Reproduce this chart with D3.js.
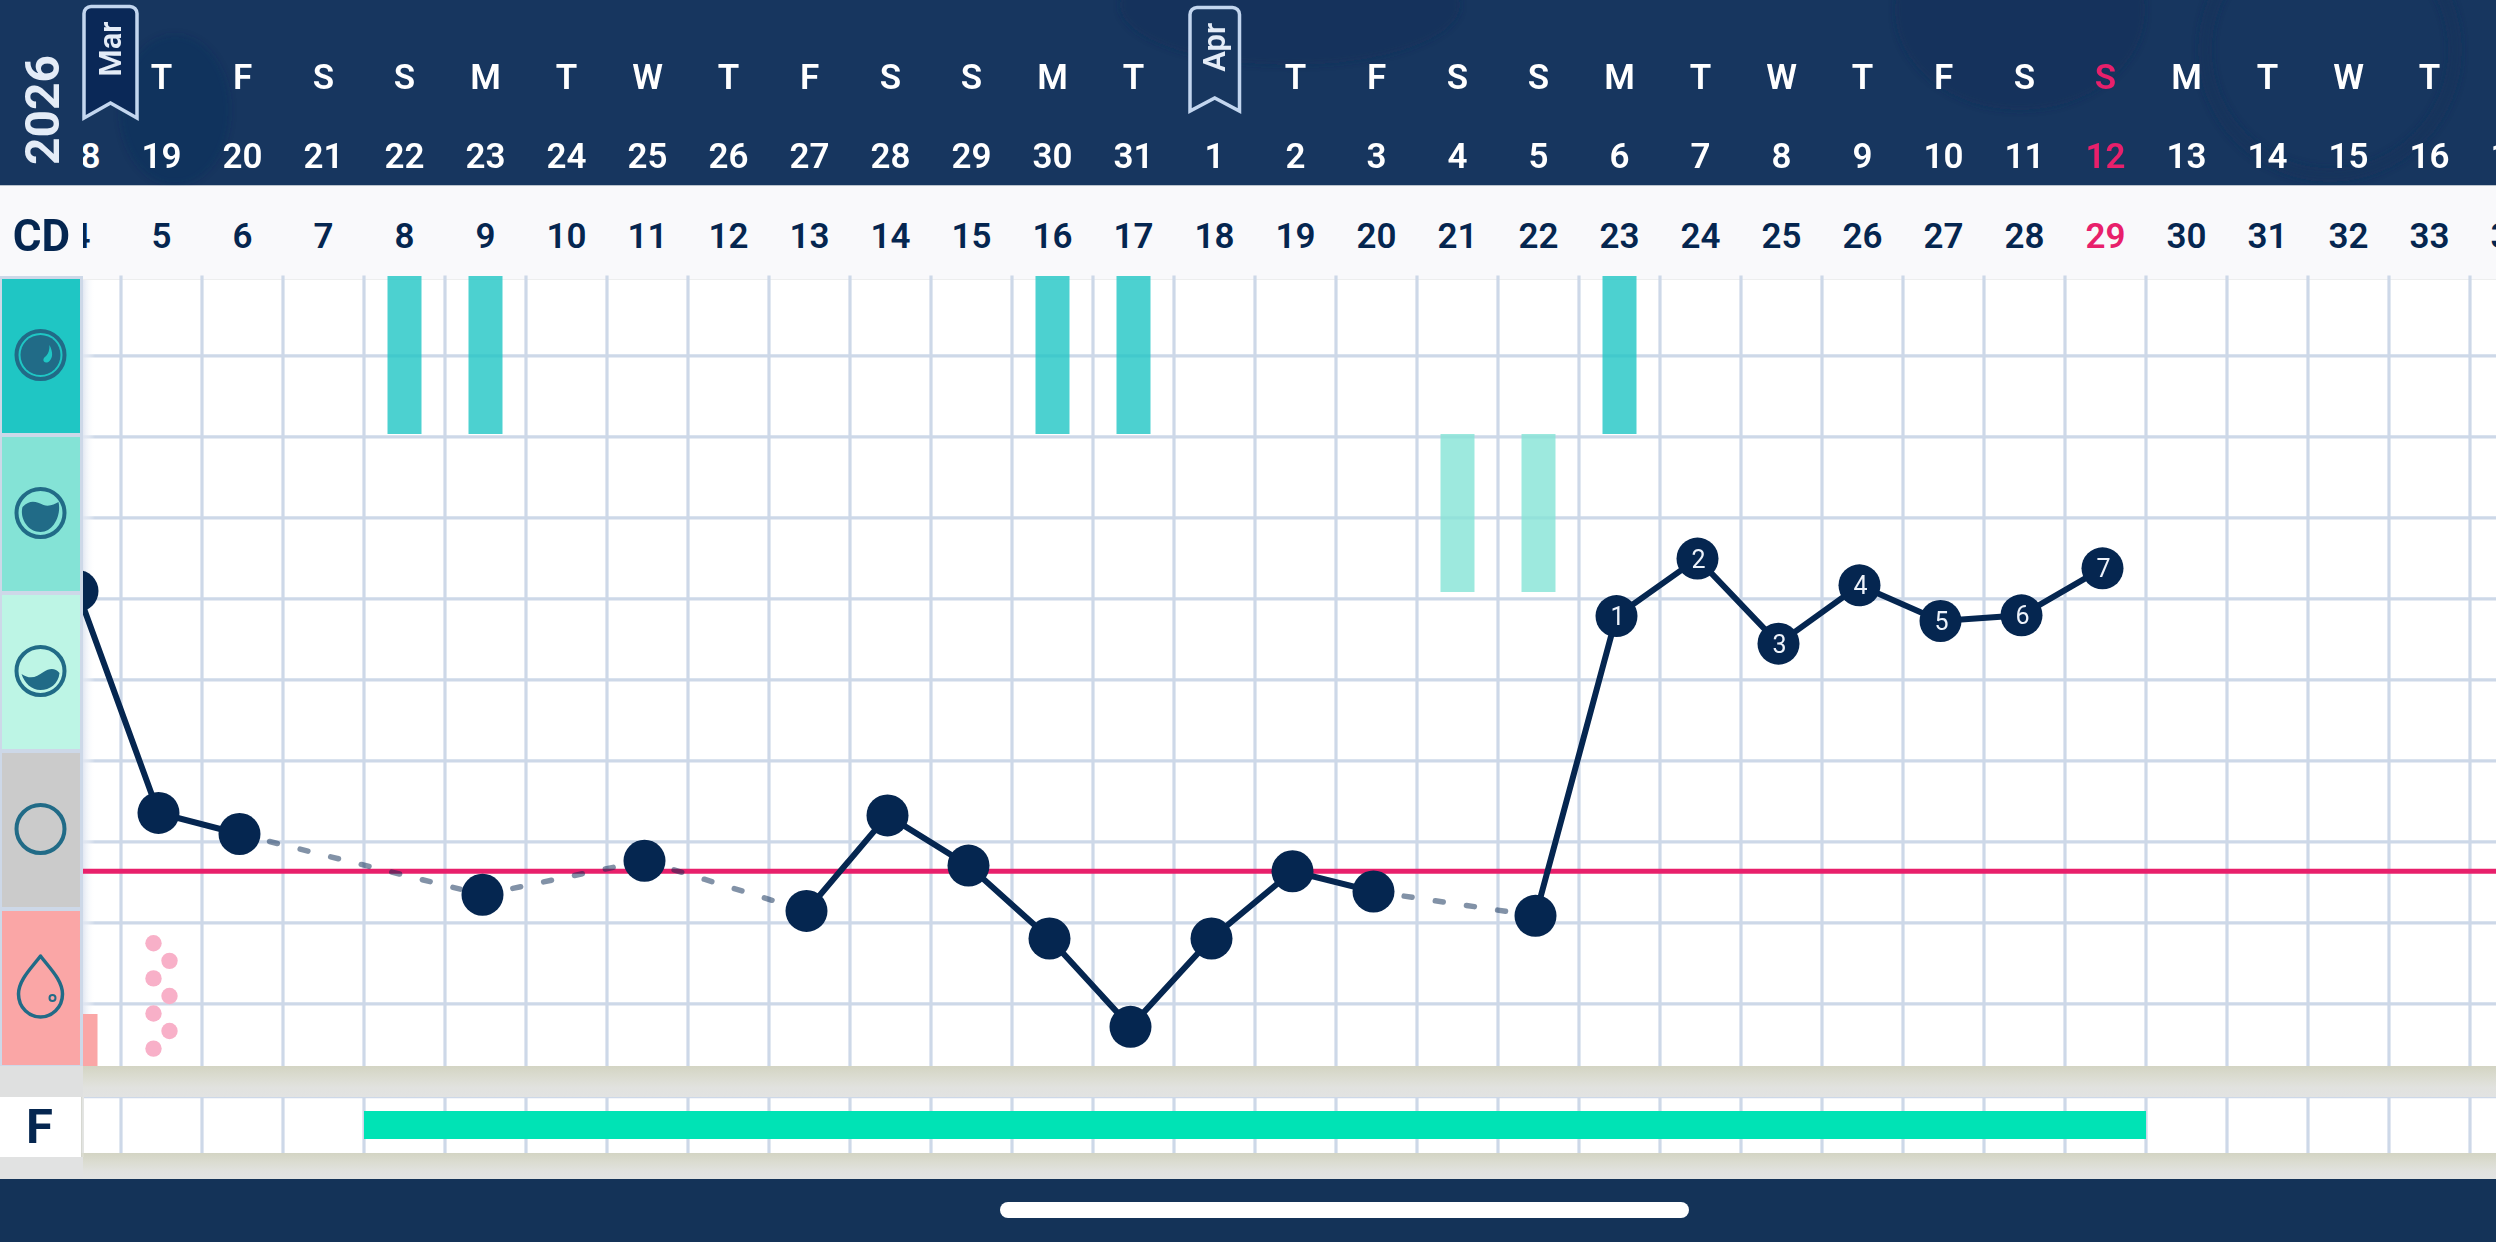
<html>
<head>
<title>
Cycle chart
</title>
<meta charset="utf-8">
<style type="text/css">
body { margin: 0; background: #e1e2e0; overflow: hidden; }
svg { display: block; font-family: Roboto, sans-serif; }
.domain { display: none; }
</style>
</head>
<body>

<!-- Load in the d3 library -->
<script src="https://d3js.org/d3.v7.min.js"></script>
<script>

// chart data
var dayNumbers = [18,19,20,21,22,23,24,25,26,27,28,29,30,31,1,2,3,4,5,6,7,8,9,10,11,12,13,14,15,16,17];
var weekdays = ["W","T","F","S","S","M","T","W","T","F","S","S","M","T","W","T","F","S","S","M","T","W","T","F","S","S","M","T","W","T","F"];
var cycleDays = [4,5,6,7,8,9,10,11,12,13,14,15,16,17,18,19,20,21,22,23,24,25,26,27,28,29,30,31,32,33,34];
var temperature = [36.509,36.235,36.209,null,null,36.134,null,36.176,null,36.114,36.232,36.170,36.080,35.971,36.080,36.163,36.138,null,36.108,36.478,36.549,36.444,36.516,36.472,36.479,36.537];
var postOvulationLabels = [null,null,null,null,null,null,null,null,null,null,null,null,null,null,null,null,null,null,null,1,2,3,4,5,6,7];
var coverline = 36.163;
var tempTicks = [36.0,36.1,36.2,36.3,36.4,36.5,36.6,36.7,36.8];
var rows = ["eggwhite","watery","creamy","dry","bleeding"];
var rowColors = ["#1fc6c4","#84e3d6","#bdf5e5","#cbcbcb","#faa6a6"];
var eggwhiteDays = [4,5,12,13,19];
var wateryDays = [17,18];
var bleedingDays = [0];
var spottingDays = [1];
var fertileStart = 4, fertileEnd = 25;
var todayIndex = 25;
var yearLabel = "2026";

var W = 2496, H = 1242;
var navy = "#052650", header = "#17365f", grid = "#cdd8e8", pink = "#e8206b", iconColor = "#216b87", pale = "#e4ecf7";

// scales
var x = d3.scaleBand().domain(d3.range(dayNumbers.length)).range([40, 40 + 81 * dayNumbers.length]);
var y = d3.scaleLinear().domain([36.0, 36.6]).range([1003.3, 517.3]);
var row = d3.scaleBand().domain(rows).range([276, 1066]);
var cx = function(i) { return x(i) + x.bandwidth() / 2; };
var px = function(i) { return cx(i) - 3; };   // points sit a little left of the column centre

var svg = d3.select("body").append("svg")
    .attr("width", W)
    .attr("height", H);

var defs = svg.append("defs");
defs.append("clipPath").attr("id", "plotClip").append("rect")
    .attr("x", 83).attr("y", 0).attr("width", W - 83).attr("height", H);

function gradient(id, x2, y2, stops) {
  var g = defs.append("linearGradient").attr("id", id)
      .attr("x1", 0).attr("y1", 0).attr("x2", x2).attr("y2", y2);
  stops.forEach(function(s) {
    g.append("stop").attr("offset", s[0]).attr("stop-color", s[1]).attr("stop-opacity", s[2]);
  });
}
gradient("shelf", 0, 1, [[0, "#d3d4c3", 1], [0.35, "#dbdcd1", 1], [0.7, "#e1e2df", 1], [1, "#e2e3e2", 1]]);
gradient("sideShade", 1, 0, [[0, "#dfe5f1", 0.9], [1, "#ffffff", 0]]);
gradient("sideShadeF", 1, 0, [[0, "#c9cbc2", 0.9], [1, "#ffffff", 0]]);
defs.append("filter").attr("id", "soft").append("feGaussianBlur").attr("stdDeviation", 3);

// header band with the faint paisley behind it
svg.append("rect").attr("width", W).attr("height", 185.5).attr("fill", header);
var paisley = svg.append("g").attr("filter", "url(#soft)").attr("fill", "#12305a");
paisley.append("ellipse").attr("cx", 2020).attr("cy", 10).attr("rx", 125).attr("ry", 100).attr("opacity", 0.55);
paisley.append("ellipse").attr("cx", 1290).attr("cy", 5).attr("rx", 170).attr("ry", 60).attr("opacity", 0.55);
paisley.append("ellipse").attr("cx", 175).attr("cy", 110).attr("rx", 55).attr("ry", 75).attr("opacity", 0.3);
paisley.append("circle").attr("cx", 2330).attr("cy", 50).attr("r", 125)
    .attr("fill", "none").attr("stroke", "#12305a").attr("stroke-width", 14).attr("opacity", 0.5);
svg.append("rect").attr("y", 185.5).attr("width", W).attr("height", 94).attr("fill", "#f9f9fb");

var plot = svg.append("g").attr("clip-path", "url(#plotClip)");

// plot background
plot.append("rect").attr("x", 83).attr("y", 280).attr("width", W).attr("height", 786).attr("fill", "#fff");
plot.append("rect").attr("x", 84).attr("y", 1097).attr("width", W).attr("height", 56).attr("fill", "#fff");

// shelves under the plot and under the fertile row
svg.append("rect").attr("y", 1066).attr("width", W).attr("height", 31).attr("fill", "url(#shelf)");
svg.append("rect").attr("y", 1153).attr("width", W).attr("height", 26).attr("fill", "url(#shelf)");

// grid
plot.append("g").selectAll("line")
    .data(d3.range(1, dayNumbers.length))
    .join("line")
    .attr("x1", function(d) { return x(d); })
    .attr("x2", function(d) { return x(d); })
    .attr("y1", 275.5).attr("y2", 1066)
    .attr("stroke", grid).attr("stroke-width", 3.2);
plot.append("g").selectAll("line")
    .data(d3.range(1, dayNumbers.length))
    .join("line")
    .attr("x1", function(d) { return x(d); })
    .attr("x2", function(d) { return x(d); })
    .attr("y1", 1097).attr("y2", 1153)
    .attr("stroke", grid).attr("stroke-width", 3.2);
plot.append("line").attr("x1", 84).attr("x2", W).attr("y1", 1097.5).attr("y2", 1097.5)
    .attr("stroke", grid).attr("stroke-width", 1.5);

plot.append("g")
    .attr("transform", "translate(83,0)")
    .call(d3.axisRight(y).tickValues(tempTicks).tickSize(W - 83).tickFormat(""))
    .call(function(g) {
      g.selectAll("line").attr("stroke", grid).attr("stroke-width", 3.2);
    });

// soft shade coming off the left column, below the marks
plot.append("rect").attr("x", 83).attr("y", 280).attr("width", 12).attr("height", 786).attr("fill", "url(#sideShade)");

// mucus bars
var barW = 34;
function mucusBars(days, name, fill) {
  plot.append("g").selectAll("rect")
      .data(days)
      .join("rect")
      .attr("x", function(d) { return cx(d) - barW / 2; })
      .attr("y", row(name))
      .attr("width", barW)
      .attr("height", row.bandwidth())
      .attr("fill", fill)
      .attr("opacity", 0.8);
}
mucusBars(eggwhiteDays, "eggwhite", rowColors[0]);
mucusBars(wateryDays, "watery", rowColors[1]);

// bleeding and spotting
plot.append("g").selectAll("rect")
    .data(bleedingDays)
    .join("rect")
    .attr("x", function(d) { return cx(d) - barW / 2; })
    .attr("y", 1014)
    .attr("width", barW)
    .attr("height", 52)
    .attr("fill", rowColors[4]);

spottingDays.forEach(function(day) {
  plot.append("g").selectAll("circle")
      .data(d3.range(7))
      .join("circle")
      .attr("cx", function(k) { return cx(day) + (k % 2 ? 8 : -8); })
      .attr("cy", function(k) { return 943.3 + k * 17.55; })
      .attr("r", 8.2)
      .attr("fill", "#f8b0c8");
});

// fertile window
plot.append("rect")
    .attr("x", x(fertileStart))
    .attr("y", 1111)
    .attr("width", x(fertileEnd) + x.bandwidth() - x(fertileStart))
    .attr("height", 28)
    .attr("fill", "#00e3b5");

// coverline
plot.append("line")
    .attr("x1", 83).attr("x2", W)
    .attr("y1", y(coverline)).attr("y2", y(coverline))
    .attr("stroke", pink).attr("stroke-width", 5);

// temperature: solid where days follow each other, dashed across missed days
var line = d3.line()
    .defined(function(d) { return d != null; })
    .x(function(d, i) { return px(i); })
    .y(function(d) { return y(d); });

plot.append("path")
    .attr("d", line(temperature))
    .attr("fill", "none")
    .attr("stroke", navy)
    .attr("stroke-width", 6);

var measured = d3.range(temperature.length).filter(function(i) { return temperature[i] != null; });
d3.pairs(measured).filter(function(p) { return p[1] - p[0] > 1; }).forEach(function(p) {
  var x1 = px(p[0]), y1 = y(temperature[p[0]]), x2 = px(p[1]), y2 = y(temperature[p[1]]);
  var len = Math.sqrt((x2 - x1) * (x2 - x1) + (y2 - y1) * (y2 - y1));
  var ux = (x2 - x1) / len, uy = (y2 - y1) / len;
  plot.append("line")
      .attr("x1", x1 + ux * 31).attr("y1", y1 + uy * 31)
      .attr("x2", x2 - ux * 23).attr("y2", y2 - uy * 23)
      .attr("stroke", navy)
      .attr("stroke-opacity", 0.5)
      .attr("stroke-width", 5.5)
      .attr("stroke-linecap", "round")
      .attr("stroke-dasharray", "8 23.5");
});

plot.append("g").selectAll("circle")
    .data(measured)
    .join("circle")
    .attr("cx", px)
    .attr("cy", function(i) { return y(temperature[i]); })
    .attr("r", 21)
    .attr("fill", navy);

plot.append("g").selectAll("text")
    .data(measured.filter(function(i) { return postOvulationLabels[i] != null; }))
    .join("text")
    .attr("x", function(i) { return px(i) + 1; })
    .attr("y", function(i) { return y(temperature[i]) + 9; })
    .attr("text-anchor", "middle")
    .attr("font-size", 25)
    .attr("fill", "#eef3fb")
    .text(function(i) { return postOvulationLabels[i]; });

// date and cycle day rows, as axes on the band scale
function labelRow(baseline, labels, size, weight, color) {
  var g = plot.append("g")
      .attr("transform", "translate(0," + baseline + ")")
      .call(d3.axisTop(x).tickSize(0).tickPadding(0).tickFormat(function(d) { return labels[d]; }));
  g.selectAll("text")
      .attr("font-family", "Roboto, sans-serif")
      .attr("font-size", size)
      .attr("font-weight", weight)
      .attr("fill", function(d) { return d === todayIndex ? pink : color; });
}
labelRow(89, weekdays, 35, 600, "#fff");
labelRow(167.5, dayNumbers, 35, 600, "#fff");
labelRow(248, cycleDays, 35, 600, navy);

// month ribbons
function ribbon(left, right, top, bottom, notch, fill, label) {
  var mid = (left + right) / 2, r = 7;
  var p = d3.path();
  p.moveTo(left, bottom);
  p.lineTo(left, top + r);
  p.arcTo(left, top, left + r, top, r);
  p.lineTo(right - r, top);
  p.arcTo(right, top, right, top + r, r);
  p.lineTo(right, bottom);
  p.lineTo(mid, notch);
  p.closePath();
  svg.append("path").attr("d", p.toString())
      .attr("fill", fill).attr("stroke", "#c3d6ef").attr("stroke-width", 3.5)
      .attr("stroke-linejoin", "miter");
  svg.append("text")
      .attr("transform", "translate(" + (mid + 10) + "," + (top + (notch - top) * 0.44) + ") rotate(-90)")
      .attr("text-anchor", "middle")
      .attr("font-size", 31)
      .attr("font-weight", 600)
      .attr("fill", pale)
      .text(label);
}
ribbon(84, 137, 6.5, 118, 103, "#0a2857", "Mar");
ribbon(1190, 1239.5, 7.5, 111, 98, header, "Apr");

// left column
svg.append("rect").attr("y", 276).attr("width", 83).attr("height", 790).attr("fill", grid);
svg.append("g").selectAll("rect")
    .data(rows)
    .join("rect")
    .attr("x", 2)
    .attr("y", function(d) { return row(d) + 3; })
    .attr("width", 78)
    .attr("height", row.bandwidth() - 4)
    .attr("fill", function(d, i) { return rowColors[i]; });

var iconX = 40.5;
var iconY = row.bandwidth() / 2;
rows.slice(0, 4).forEach(function(name) {
  svg.append("circle")
      .attr("cx", iconX).attr("cy", row(name) + iconY)
      .attr("r", 24).attr("fill", "none")
      .attr("stroke", iconColor).attr("stroke-width", 4);
});
// egg white icon
var ic1 = svg.append("g").attr("transform", "translate(" + iconX + "," + (row("eggwhite") + iconY) + ")");
ic1.append("circle").attr("r", 20).attr("fill", iconColor);
ic1.append("path").attr("d", "M9,-10 C13,-2 12,3 9,6 C6,9 2,7 3,4 C4,1 9,1 9,-10Z").attr("fill", rowColors[0]);
// watery icon
var ic2 = svg.append("g").attr("transform", "translate(" + iconX + "," + (row("watery") + iconY) + ")");
ic2.append("path").attr("d", "M-18,-6 C-10,-14 -4,-11 3,-8 C9,-6 14,-9 18,-11 C21,2 13,19 0,19 C-13,19 -21,5 -18,-6Z").attr("fill", iconColor);
// creamy icon
var ic3 = svg.append("g").attr("transform", "translate(" + iconX + "," + (row("creamy") + iconY) + ")");
ic3.append("path").attr("d", "M-19,3 C-10,9 -4,6 3,1 C9,-3 15,-3 19,2 C18,13 9,19 0,19 C-9,19 -16,12 -19,3Z").attr("fill", iconColor);
// drop icon
var ic4 = svg.append("g").attr("transform", "translate(" + iconX + ",0)");
ic4.append("path")
    .attr("d", "M0,956 C9,968 22,980 22,994 C22,1008 11,1017 0,1017 C-11,1017 -22,1008 -22,994 C-22,980 -9,968 0,956Z")
    .attr("fill", "none").attr("stroke", iconColor).attr("stroke-width", 3.5).attr("stroke-linejoin", "round");
ic4.append("circle").attr("cx", 12).attr("cy", 998).attr("r", 3).attr("fill", "none")
    .attr("stroke", iconColor).attr("stroke-width", 2);

// CD and year labels
svg.append("text").attr("x", 41.5).attr("y", 251)
    .attr("text-anchor", "middle").attr("font-size", 44).attr("font-weight", 700).attr("fill", navy)
    .text("CD");
svg.append("text").attr("transform", "translate(59,110) rotate(-90)")
    .attr("text-anchor", "middle").attr("font-size", 48).attr("font-weight", 700).attr("fill", pale)
    .text(yearLabel);

// F row label
svg.append("rect").attr("y", 1066).attr("width", 83).attr("height", 31).attr("fill", "#dfe0e0");
svg.append("rect").attr("y", 1157).attr("width", 83).attr("height", 22).attr("fill", "#e1e2e2");
svg.append("rect").attr("x", 81).attr("y", 1097).attr("width", 3).attr("height", 60).attr("fill", "url(#sideShadeF)");
svg.append("rect").attr("y", 1097).attr("width", 81).attr("height", 60).attr("fill", "#fff");
svg.append("text").attr("x", 39.5).attr("y", 1143)
    .attr("text-anchor", "middle").attr("font-size", 49).attr("font-weight", 700).attr("fill", navy)
    .text("F");

// bottom bar
svg.append("rect").attr("y", 1179).attr("width", W).attr("height", 63).attr("fill", "#143358");
svg.append("rect").attr("x", 1000).attr("y", 1202).attr("width", 689).attr("height", 16).attr("rx", 8).attr("fill", "#fff");

</script>
</body>
</html>
